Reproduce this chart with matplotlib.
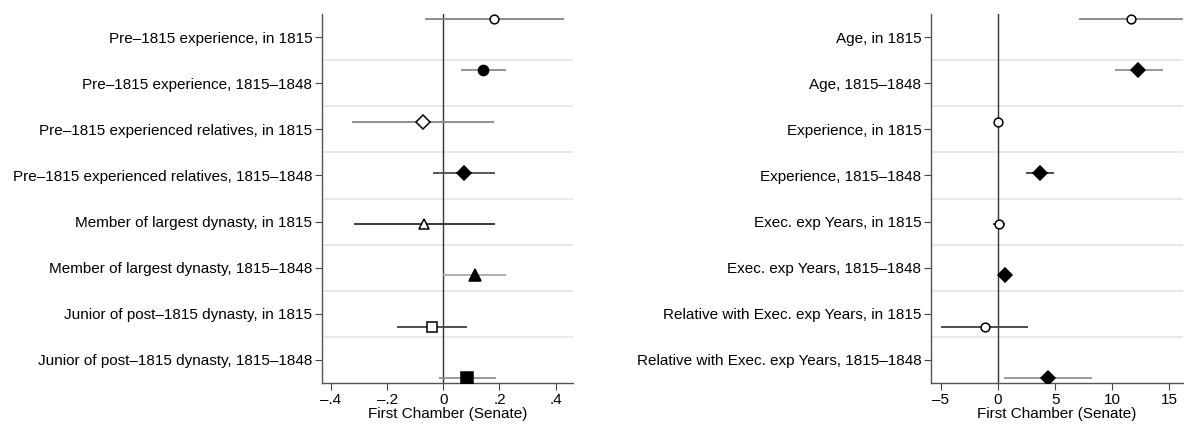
import matplotlib
matplotlib.use("Agg")
import matplotlib.pyplot as plt
import numpy as np

plt.rcParams['font.family'] = ['Liberation Sans', 'DejaVu Sans']

left_labels = [
    "Pre–1815 experience, in 1815",
    "Pre–1815 experience, 1815–1848",
    "Pre–1815 experienced relatives, in 1815",
    "Pre–1815 experienced relatives, 1815–1848",
    "Member of largest dynasty, in 1815",
    "Member of largest dynasty, 1815–1848",
    "Junior of post–1815 dynasty, in 1815",
    "Junior of post–1815 dynasty, 1815–1848",
]
left_est = [0.182, 0.143, -0.071, 0.075, -0.068, 0.112, -0.039, 0.086]
left_lo = [-0.064, 0.064, -0.324, -0.036, -0.319, 0.0, -0.164, -0.016]
left_hi = [0.429, 0.225, 0.182, 0.185, 0.185, 0.225, 0.084, 0.189]
left_markers = ['o', 'o', 'D', 'D', '^', '^', 's', 's']
left_filled = [False, True, False, True, False, True, False, True]
left_cicol = ['#858585', '#8c8c8c', '#858585', '#4a4a4a', '#2a2a2a', '#a8a8a8', '#404040', '#909090']
left_xticks = [-0.4, -0.2, 0, 0.2, 0.4]
left_xticklabels = ["–.4", "–.2", "0", ".2", ".4"]

right_labels = [
    "Age, in 1815",
    "Age, 1815–1848",
    "Experience, in 1815",
    "Experience, 1815–1848",
    "Exec. exp Years, in 1815",
    "Exec. exp Years, 1815–1848",
    "Relative with Exec. exp Years, in 1815",
    "Relative with Exec. exp Years, 1815–1848",
]
right_est = [11.67, 12.29, 0.02, 3.65, 0.09, 0.64, -1.17, 4.35]
right_lo = [7.12, 10.22, -0.05, 2.42, -0.44, 0.55, -5.0, 0.5]
right_hi = [17.0, 14.42, 0.08, 4.88, 0.64, 0.75, 2.63, 8.2]
right_markers = ['o', 'D', 'o', 'D', 'o', 'D', 'o', 'D']
right_filled = [False, True, False, True, False, True, False, True]
right_cicol = ['#858585', '#909090', '#404040', '#404040', '#303030', '#909090', '#404040', '#909090']
right_xticks = [-5, 0, 5, 10, 15]
right_xticklabels = ["–5", "0", "5", "10", "15"]

fig = plt.figure(figsize=(11.84, 4.24), dpi=100)

MS = {'o': 6.3, 'D': 7, 's': 7.5, '^': 7.5}
MS_FILLED = {'o': 7.3, 'D': 7.5, 's': 8, '^': 8}

def panel(rect, labels, est, lo, hi, markers, filled, cicol, xlim, xticks, xticklabels):
    ax = fig.add_axes(rect)
    n = len(labels)
    ylab = np.arange(n)
    ypts = np.linspace(-0.39, n - 0.61, n)
    ax.set_ylim(n - 0.5, -0.5)
    ax.set_xlim(*xlim)
    for g in np.arange(0.5, n - 0.5, 1.0):
        ax.axhline(g, color='#e6e6e6', lw=1.3, zorder=0)
    ax.axvline(0, color='#333333', lw=1.0, zorder=1)
    for i in range(n):
        ax.plot([lo[i], hi[i]], [ypts[i], ypts[i]], color=cicol[i], lw=1.3, zorder=2,
                solid_capstyle='butt')
        ms = MS_FILLED[markers[i]] if filled[i] else MS[markers[i]]
        ax.plot(est[i], ypts[i], marker=markers[i], ms=ms,
                mfc='black' if filled[i] else 'white', mec='black', mew=1.1,
                linestyle='none', zorder=3)
    ax.set_yticks(ylab)
    ax.set_yticklabels(labels, fontsize=11)
    ax.set_xticks(xticks)
    ax.set_xticklabels(xticklabels, fontsize=11)
    ax.set_xlabel("First Chamber (Senate)", fontsize=11, labelpad=0)
    for s in ('top', 'right'):
        ax.spines[s].set_visible(False)
    for s in ('left', 'bottom'):
        ax.spines[s].set_color('#555555')
        ax.spines[s].set_linewidth(1.0)
    ax.tick_params(axis='both', direction='out', length=5, width=0.8, color='#444444', pad=2)
    return ax

panel([322/1184, 41/424, 251/1184, 369/424], left_labels, left_est, left_lo, left_hi,
      left_markers, left_filled, left_cicol, (-0.432, 0.462), left_xticks, left_xticklabels)
panel([931/1184, 41/424, 252/1184, 369/424], right_labels, right_est, right_lo, right_hi,
      right_markers, right_filled, right_cicol, (-5.87, 16.2), right_xticks, right_xticklabels)

fig.savefig("out.png", dpi=100)
